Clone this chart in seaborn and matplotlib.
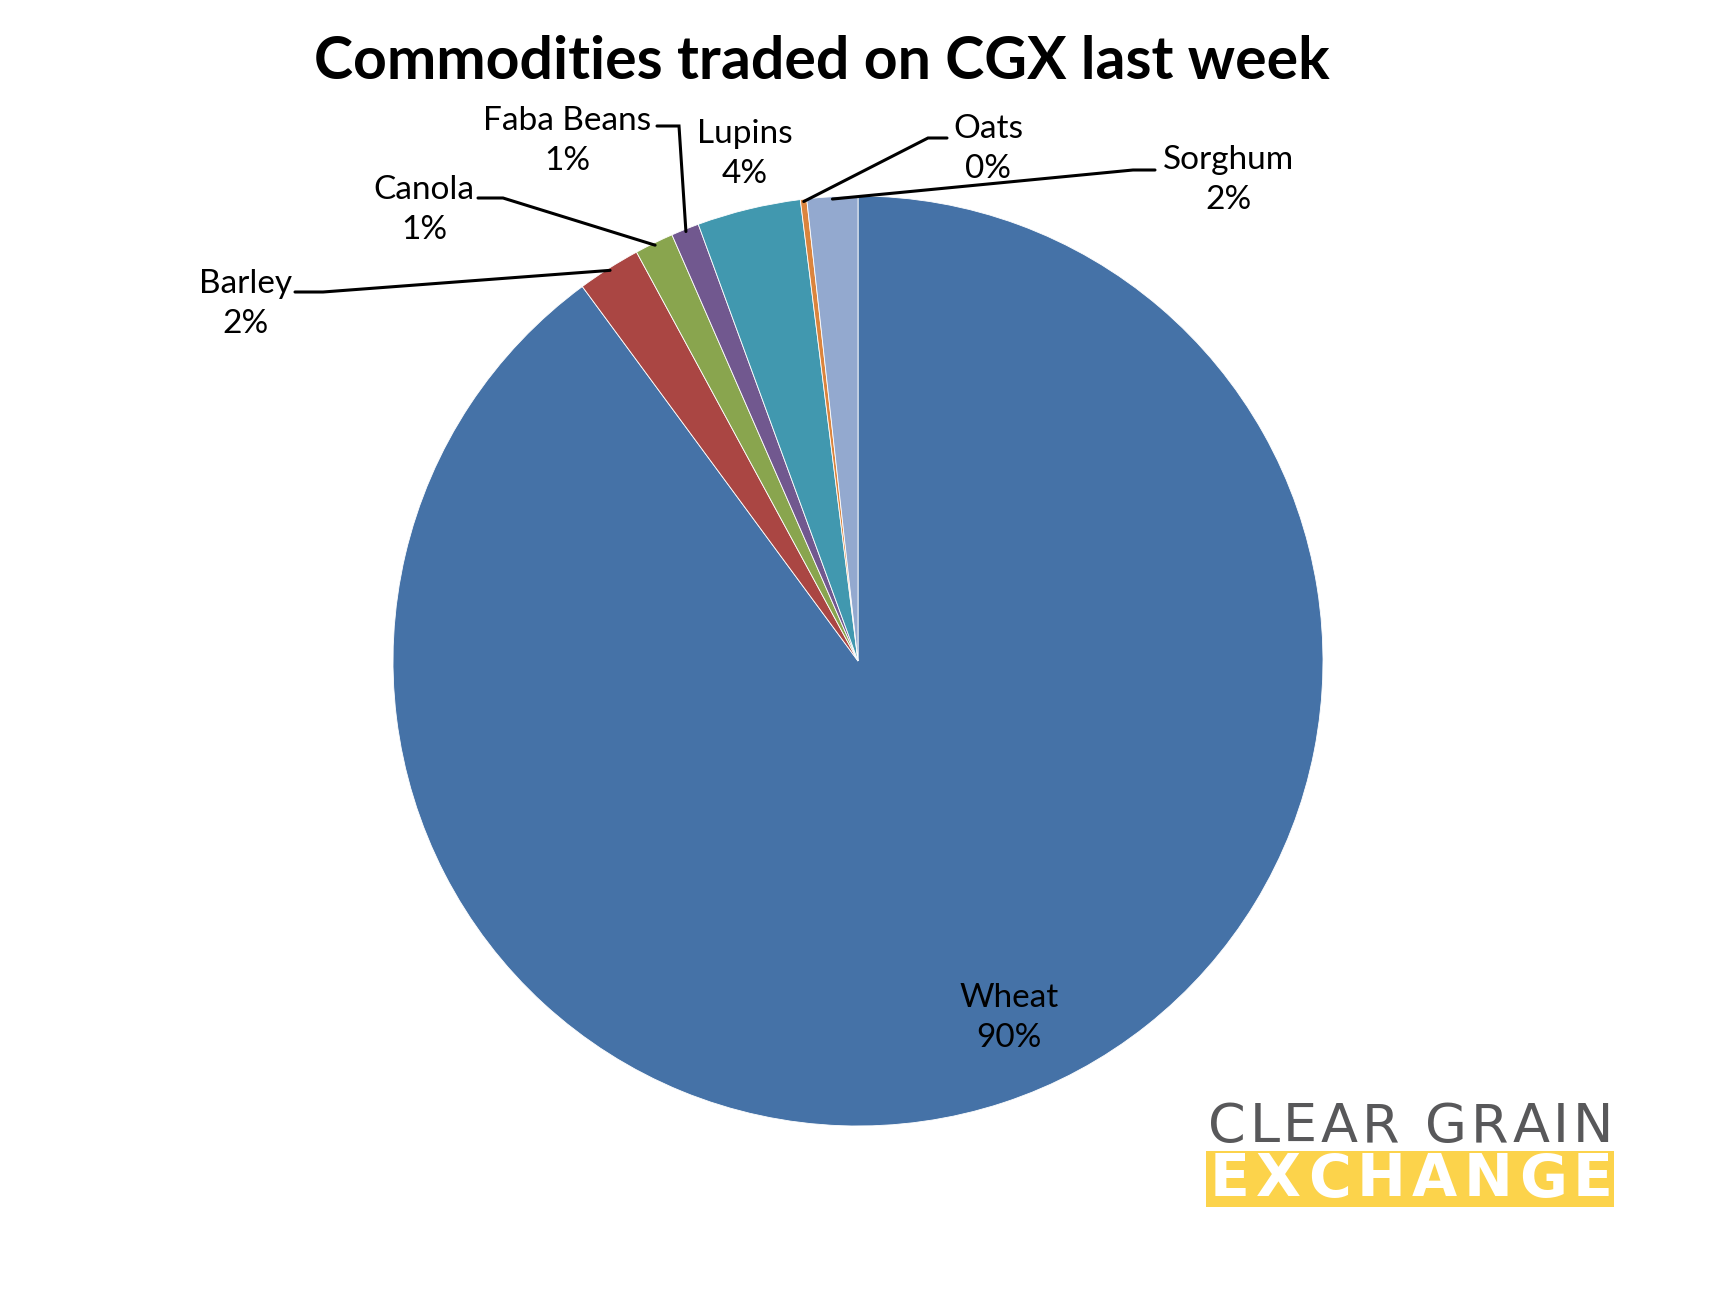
import matplotlib
matplotlib.use("Agg")
import matplotlib.pyplot as plt
import matplotlib.patches as mpatches
import numpy as np
import seaborn as sns

sns.set_theme(style="white")
plt.rcParams["font.family"] = ["Lato", "DejaVu Sans"]

# ---- data ----
categories = ["Wheat", "Barley", "Canola", "Faba Beans", "Lupins", "Oats", "Sorghum"]
values = [89.9, 2.2, 1.35, 0.97, 3.6, 0.22, 1.76]
pct_labels = ["90%", "2%", "1%", "1%", "4%", "0%", "2%"]
colors = ["#4572A7", "#AA4643", "#89A54E", "#71588F", "#4198AF", "#DB843D", "#93A9CF"]
title = "Commodities traded on CGX last week"
logo_top = "CLEAR GRAIN"
logo_bottom = "EXCHANGE"

W, H = 1716, 1289
CX, CY, R = 858, 661, 465

fig = plt.figure(figsize=(W / 100, H / 100), dpi=100)
fig.patch.set_facecolor("white")
ax = fig.add_axes([(CX - R) / W, (H - CY - R) / H, 2 * R / W, 2 * R / H])
wedges, _ = ax.pie(values, colors=colors, startangle=90, counterclock=False, radius=1,
                   wedgeprops=dict(linewidth=0.6, edgecolor="white"))
ax.set_xlim(-1, 1)
ax.set_ylim(-1, 1)
ax.set_aspect("equal")
ax.axis("off")


def d(px, py):
    return (px - CX) / R, (CY - py) / R


# label layout: text centre (px), leader stub (x_start, x_knee, y) or None
layout = {
    "Wheat": ((1009, 1018), None),
    "Barley": ((246, 304), (295, 323, 292)),
    "Canola": ((424, 210), (478, 503, 198)),
    "Faba Beans": ((567, 141), (657, 679, 126)),
    "Lupins": ((745, 154), None),
    "Oats": ((988, 149), (947, 928, 138)),
    "Sorghum": ((1228, 180), (1155, 1133, 170)),
}

FS = 24
for w, name, pct in zip(wedges, categories, pct_labels):
    (tx, ty), stub = layout[name]
    x, y = d(tx, ty)
    ax.text(x, y, f"{name}\n{pct}", ha="center", va="center", fontsize=FS,
            linespacing=1.4, color="black", clip_on=False)
    if stub is not None:
        mid = np.deg2rad((w.theta1 + w.theta2) / 2)
        rx, ry = np.cos(mid) * 0.995, np.sin(mid) * 0.995
        x0, y0 = d(stub[0], stub[2])
        x1, y1 = d(stub[1], stub[2])
        ax.plot([x0, x1, rx], [y0, y1, ry], color="black", lw=2.2,
                solid_joinstyle="miter", clip_on=False)

fig.text(822 / W, 1 - 62 / H, title, ha="center", va="center", fontsize=42.5,
         fontweight="bold", color="black")

# logo
renderer = fig.canvas.get_renderer()


def spaced_text(s, x0, x1, yc, **kw):
    """Draw string s with letters spread evenly between pixel x0 and x1."""
    arts = [fig.text(0, 0, ch, ha="left", va="center", **kw) for ch in s]
    widths = [a.get_window_extent(renderer).width if ch != " " else 0 for a, ch in zip(arts, s)]
    space_w = 0.45 * max(widths)
    widths = [wd if ch != " " else space_w for wd, ch in zip(widths, s)]
    gap = (x1 - x0 - sum(widths)) / (len(s) - 1)
    x = x0
    for a, wd in zip(arts, widths):
        a.set_position((x / W, 1 - yc / H))
        x += wd + gap


spaced_text(logo_top, 1208, 1613, 1127, fontsize=39, color="#58585A",
            family=["DejaVu Sans"], fontweight="normal")
fig.add_artist(mpatches.Rectangle((1206 / W, 1 - 1207 / H), 408 / W, 56 / H,
                                  transform=fig.transFigure, facecolor="#FCD34B",
                                  edgecolor="none"))
spaced_text(logo_bottom, 1210, 1613, 1180, fontsize=42, color="white",
            family=["DejaVu Sans"], fontweight="bold")

fig.savefig("out.png", dpi=100, facecolor="white")
